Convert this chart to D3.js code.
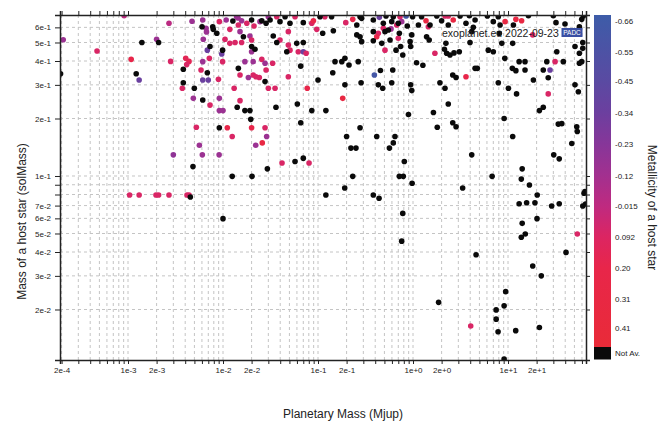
<!DOCTYPE html>
<html lang="en">
<head>
<meta charset="UTF-8">
<title>Planetary mass vs host star mass</title>
<script src="https://cdn.jsdelivr.net/npm/d3@7"></script>
<style>
  body { margin: 0; background: #fff; }
  svg { font-family: "Liberation Sans", Arial, sans-serif; }
  .grid line { stroke: #c4c4c4; stroke-dasharray: 3,3; }
  .axis path, .axis line { stroke: #222; }
  .axis path { stroke-width: 1.5; }
  .axis text { font-size: 8px; fill: #222; font-family: "Liberation Sans", Arial, sans-serif; }
</style>
</head>
<body>
<script>
// planets without host metallicity: [planet mass (Mjup), star mass (solMass)]
const notAvailable = [
  [1.40e-3,0.50],[2.10e-3,0.50],[3.82e-3,0.362],[1.22e-3,0.343],[1.95e-4,0.343],[3.82e-3,0.308],[4.99e-3,0.288],
  [4.83e-3,0.112],[4.53e-3,0.0777],[1.25e-2,0.0996],[2.02e-2,0.0996],[2.93e-2,0.109],[5.73e-2,0.119],[7.0e-2,0.124],
  [1.0e-2,0.0598],[0.222,0.14],[0.251,0.14],[0.564,0.14],[0.232,0.0996],[0.191,0.0865],[0.121,0.0795],[0.382,0.0795],
  [0.439,0.0765],[1.27e-2,0.648],[2.0e-2,0.656],[2.56e-2,0.65],[3.13e-2,0.656],[4.5e-2,0.682],[0.105,0.682],
  [0.139,0.682],[0.277,0.682],[0.62,0.682],[6.02e-3,0.605],[7.8e-3,0.605],[7.9e-3,0.586],[2.84e-2,0.63],
  [3.98e-2,0.643],[5.07e-2,0.63],[7.0e-2,0.635],[0.112,0.559],[0.145,0.576],[0.256,0.617],[0.288,0.669],
  [0.382,0.656],[0.382,0.57],[0.507,0.57],[0.55,0.581],[0.597,0.643],[0.70,0.63],[8.6e-3,0.559],[1.64e-2,0.536],
  [3.38e-2,0.541],[3.68e-2,0.50],[5.97e-2,0.495],[7.0e-2,0.50],[0.256,0.548],[0.277,0.536],[0.288,0.505],
  [0.382,0.511],[0.469,0.495],[7.3e-3,0.476],[9.9e-3,0.456],[2.0e-2,0.476],[2.17e-2,0.461],[4.69e-2,0.447],
  [6.58e-2,0.376],[0.151,0.397],[0.178,0.397],[0.192,0.413],[0.212,0.381],[0.265,0.397],[6.84e-3,0.347],
  [1.45e-2,0.366],[0.143,0.347],[0.454,0.357],[2.77e-2,0.312],[0.100,0.318],[0.192,0.30],[0.284,0.308],
  [0.431,0.30],[0.48,0.288],[0.597,0.308],[6.12e-3,0.25],[1.41e-2,0.229],[1.7e-2,0.22],[1.92e-2,0.22],
  [1.96e-2,0.198],[3.61e-2,0.229],[6.06e-2,0.238],[8.6e-2,0.22],[0.121,0.22],[9.15e-3,0.179],[6.58e-2,0.19],
  [0.20,0.161],[0.277,0.179],[0.415,0.161],[0.646,0.161],[0.52,0.688],[0.99,0.682],[1.23,0.682],[1.78,0.688],
  [3.13,0.688],[3.92,0.69],[6.06,0.688],[7.9,0.682],[16.4,0.69],[30,0.69],[62,0.688],[59.7,0.661],[0.487,0.63],
  [0.87,0.61],[1.14,0.617],[1.51,0.617],[2.0,0.65],[2.35,0.617],[3.61,0.63],[4.31,0.60],[4.5,0.656],[7.0,0.643],
  [8.25,0.617],[11.4,0.617],[32,0.635],[39.8,0.625],[56.4,0.605],[0.718,0.559],[0.573,0.515],[0.663,0.456],
  [0.74,0.476],[0.78,0.43],[0.97,0.548],[0.932,0.505],[0.945,0.476],[1.39,0.536],[1.48,0.515],[2.22,0.495],
  [2.14,0.461],[2.26,0.439],[2.45,0.43],[2.7,0.441],[3.07,0.447],[3.98,0.50],[4.15,0.57],[4.5,0.366],[4.75,0.366],
  [6.2,0.456],[7.0,0.447],[8.1,0.559],[8.6,0.495],[9.25,0.413],[11.1,0.366],[12.1,0.356],[13.1,0.397],[15.1,0.397],
  [15.1,0.359],[11.2,0.495],[25.6,0.397],[38.2,0.397],[23.5,0.359],[26.5,0.327],[18.5,0.318],[32.6,0.447],
  [50.7,0.476],[61.2,0.50],[61.2,0.466],[56.4,0.439],[59.7,0.397],[56.4,0.389],[0.612,0.359],[1.09,0.392],
  [1.27,0.38],[2.62,0.338],[2.84,0.328],[1.92,0.308],[2.17,0.288],[0.945,0.30],[0.97,0.28],[7.9,0.308],
  [10.1,0.288],[12.3,0.269],[50.7,0.30],[55,0.276],[2.35,0.238],[1.64,0.215],[0.895,0.21],[2.62,0.19],
  [2.84,0.181],[1.8,0.18],[9.1,0.20],[11.2,0.161],[21.4,0.22],[23.5,0.229],[33.8,0.187],[36.8,0.188],
  [52.9,0.181],[53.6,0.171],[46.9,0.148],[0.62,0.149],[0.81,0.119],[0.718,0.0996],[0.79,0.0996],[0.978,0.0916],
  [0.78,0.0637],[0.76,0.0456],[4.15,0.129],[6.8,0.0996],[3.33,0.0865],[4.61,0.0387],[14.1,0.109],[13.8,0.0963],
  [16.8,0.0897],[20.3,0.0795],[13.1,0.0716],[15.7,0.0724],[19.2,0.0724],[20.2,0.0598],[14.1,0.0565],
  [15.2,0.0497],[13.8,0.0478],[18.2,0.0338],[22.4,0.030],[30.3,0.129],[34.6,0.123],[28.8,0.0696],[34.6,0.0716],
  [40.8,0.0398],[63.1,0.0812],[64.6,0.0828],[61.2,0.0696],[65.5,0.0714],[9.45,0.0248],[1.86,0.0218],
  [9.1,0.0209],[7.5,0.0199],[7.5,0.0178],[7.86,0.0153],[12.05,0.0155],[21.4,0.0161],[9.1,0.011]
];

// planets with host metallicity: [planet mass (Mjup), star mass (solMass), [Fe/H]]
const withMetallicity = [
  [9.1e-4,0.69,-0.03],[2.08e-4,0.517,-0.15],[4.72e-4,0.451,0.08],[2.0e-3,0.52,-0.15],[2.7e-3,0.63,-0.03],
  [4.72e-3,0.646,-0.15],[1.08e-3,0.408,0.2],[2.81e-3,0.398,0.08],[4.05e-3,0.413,0.15],[4.39e-3,0.398,0.15],
  [4.15e-3,0.383,0.08],[5.87e-3,0.359,0.08],[1.31e-3,0.318,-0.35],[3.73e-3,0.288,0.08],[4.87e-3,0.255,-0.15],
  [5.24e-3,0.18,0.08],[5.64e-3,0.145,-0.15],[3.0e-3,0.129,-0.2],
  [1.04e-3,0.0795,0.08],[1.31e-3,0.0795,0.08],[1.97e-3,0.0795,0.08],[2.10e-3,0.0795,0.08],[2.70e-3,0.0795,0.08],
  [4.18e-3,0.0795,0.08],[4.39e-3,0.0795,0.08],
  [6.06e-3,0.129,-0.15],[9.1e-3,0.129,-0.15],[2.21e-2,0.145,-0.15],[2.59e-2,0.149,0.3],[4.18e-2,0.117,0.08],
  [8.05e-2,0.117,0.08],[1.39e-2,0.682,-0.15],[1.44e-2,0.672,-0.15],[1.57e-2,0.65,-0.15],[3.0e-2,0.682,-0.15],
  [3.68e-2,0.682,0.08],[5.73e-2,0.682,0.08],[0.118,0.682,0.08],[0.442,0.677,-0.35],[6.12e-3,0.656,-0.15],
  [6.63e-3,0.594,-0.15],[6.7e-3,0.568,-0.15],[9.15e-3,0.643,0.08],[1.08e-2,0.656,-0.15],[1.18e-2,0.586,0.08],
  [1.45e-2,0.617,0.08],[1.78e-2,0.63,0.08],[2.12e-2,0.61,0.08],[2.45e-2,0.643,-0.15],[4.87e-2,0.57,0.08],
  [8.6e-2,0.63,0.08],[8.95e-2,0.65,0.2],[9.7e-2,0.586,0.08],[0.196,0.635,0.08],[0.232,0.661,0.2],
  [0.431,0.559,0.08],[0.487,0.594,0.08],[6.2e-3,0.52,-0.15],[1.05e-2,0.52,0.08],[1.18e-2,0.495,0.08],
  [1.34e-2,0.50,0.08],[1.57e-2,0.50,0.08],[1.51e-2,0.57,-0.15],[1.92e-2,0.541,-0.15],[2.0e-2,0.515,0.08],
  [3.98e-2,0.515,0.08],[4.87e-2,0.485,0.08],[0.415,0.536,0.2],[6.84e-3,0.456,-0.35],[9.7e-3,0.435,-0.35],
  [2.0e-2,0.447,-0.15],[5.07e-2,0.456,0.08],[6.2e-2,0.447,0.08],[7.0e-2,0.447,-0.35],[7.5e-2,0.439,0.08],
  [6.12e-3,0.397,-0.15],[7.18e-3,0.413,0.08],[9.9e-3,0.397,0.08],[1.7e-2,0.397,-0.15],[2.08e-2,0.397,-0.15],
  [2.56e-2,0.408,0.08],[2.77e-2,0.389,-0.15],[3.33e-2,0.389,0.08],[1.51e-2,0.338,0.08],[1.85e-2,0.328,-0.15],
  [2.08e-2,0.338,0.08],[2.22e-2,0.331,0.08],[2.41e-2,0.328,0.08],[2.84e-2,0.359,0.08],[4.87e-2,0.331,0.08],
  [6.12e-3,0.318,-0.35],[7.0e-3,0.318,-0.35],[8.95e-3,0.321,0.08],[1.31e-2,0.288,0.08],[3.0e-2,0.288,0.08],
  [3.53e-2,0.288,0.08],[7.7e-2,0.288,0.2],[0.392,0.338,-0.62],[9.15e-3,0.255,-0.15],[7.3e-3,0.235,0.08],
  [9.15e-3,0.22,-0.15],[1.0e-2,0.22,-0.15],[1.51e-2,0.248,0.08],[0.182,0.255,0.3],[1.11e-2,0.179,0.2],
  [1.25e-2,0.161,0.08],[2.0e-2,0.179,0.2],[2.77e-2,0.179,0.08],[2.88e-2,0.161,-0.15],[0.73,0.682,0.08],
  [0.845,0.688,-0.62],[2.17,0.688,0.08],[2.35,0.688,0.08],[0.587,0.589,-0.15],[0.674,0.617,0.08],
  [0.76,0.643,-0.15],[1.37,0.65,0.3],[1.45,0.605,0.08],[2.65,0.656,0.3],[9.32,0.643,0.3],[12.1,0.661,0.3],
  [13.9,0.65,0.3],[0.70,0.526,0.08],[0.507,0.456,0.08],[18.2,0.548,0.08],[31.3,0.397,0.08],[27.7,0.359,-0.35],
  [1.70,0.439,0.08],[3.61,0.331,0.2],[26.5,0.269,0.08],[53.6,0.0497,0.08],[4.05,0.0164,0.08]
];

const xLabelled = [2e-4, 1e-3, 2e-3, 1e-2, 2e-2, 1e-1, 2e-1, 1, 2, 10, 20];
const yLabelled = [0.02, 0.03, 0.04, 0.05, 0.06, 0.07, 0.1, 0.2, 0.3, 0.4, 0.5, 0.6];
const metTicks = [-0.66, -0.55, -0.45, -0.34, -0.23, -0.12, -0.015, 0.092, 0.20, 0.31, 0.41];
const metTickLabels = ["-0.66", "-0.55", "-0.45", "-0.34", "-0.23", "-0.12", "-0.015", "0.092", "0.20", "0.31", "0.41"];
const metStops = [-0.68, -0.45, -0.34, -0.23, -0.12, -0.015, 0.092, 0.20, 0.475];
const metColors = ["#3d5ca8", "#5a4aa2", "#6c3f9f", "#873699", "#a3308f", "#bf2a80", "#dc2562", "#e8264a", "#e92b38"];

const width = 666, height = 421;
const plotLeft = 60, plotRight = 586, plotTop = 15, plotBottom = 360;
const barBottom = 347;

const svg = d3.select("body").append("svg")
  .attr("width", width)
  .attr("height", height);

const x = d3.scaleLog().domain([1.924e-4, 66.2]).range([plotLeft, plotRight]);
const y = d3.scaleLog().domain([0.01088, 0.6965]).range([plotBottom, plotTop]);
const metY = d3.scaleLinear().domain([-0.68, 0.475]).range([plotTop, barBottom]);
const color = d3.scaleLinear().domain(metStops).range(metColors).clamp(true);

// every 1..9 x 10^k inside the domain
function logTicks(scale) {
  const [a, b] = scale.domain();
  const out = [];
  for (let k = Math.floor(Math.log10(a)); k <= Math.ceil(Math.log10(b)); k++) {
    for (let m = 1; m <= 9; m++) {
      const v = m * Math.pow(10, k);
      if (v >= a && v <= b) out.push(v);
    }
  }
  return out;
}
const xTicks = logTicks(x);
const yTicks = logTicks(y);
const isIn = (list, v) => list.some(l => Math.abs(v - l) / l < 1e-6);
const fmt = d3.format(".0e");

// grid
svg.append("g").attr("class", "grid")
  .selectAll("line").data(xTicks).join("line")
  .attr("x1", d => x(d)).attr("x2", d => x(d))
  .attr("y1", plotTop).attr("y2", plotBottom);
svg.append("g").attr("class", "grid")
  .selectAll("line").data(yTicks).join("line")
  .attr("y1", d => y(d)).attr("y2", d => y(d))
  .attr("x1", plotLeft).attr("x2", plotRight);

// points
svg.append("clipPath").attr("id", "plotclip")
  .append("rect").attr("x", plotLeft).attr("y", plotTop)
  .attr("width", plotRight - plotLeft).attr("height", plotBottom - plotTop);

const dots = svg.append("g").attr("clip-path", "url(#plotclip)");
dots.selectAll("circle.met").data(withMetallicity).join("circle")
  .attr("class", "met")
  .attr("cx", d => x(d[0])).attr("cy", d => y(d[1]))
  .attr("r", 2.8)
  .attr("fill", d => color(d[2]));
dots.selectAll("circle.na").data(notAvailable).join("circle")
  .attr("class", "na")
  .attr("cx", d => x(d[0])).attr("cy", d => y(d[1]))
  .attr("r", 2.8)
  .attr("fill", "#0a0a0a");

// axes
svg.append("g").attr("class", "axis")
  .attr("transform", "translate(0," + plotBottom + ")")
  .call(d3.axisBottom(x).tickValues(xTicks)
    .tickFormat(d => isIn(xLabelled, d) ? fmt(d) : "")
    .tickSize(4).tickSizeOuter(4).tickPadding(3));
svg.append("g").attr("class", "axis")
  .attr("transform", "translate(0," + plotTop + ")")
  .call(d3.axisTop(x).tickValues(xTicks).tickFormat("").tickSize(4).tickSizeOuter(4));
svg.append("g").attr("class", "axis")
  .attr("transform", "translate(" + plotLeft + ",0)")
  .call(d3.axisLeft(y).tickValues(yTicks)
    .tickFormat(d => isIn(yLabelled, d) ? fmt(d) : "")
    .tickSize(5).tickSizeOuter(5).tickPadding(4));
svg.append("g").attr("class", "axis")
  .attr("transform", "translate(" + plotRight + ",0)")
  .call(d3.axisRight(y).tickValues(yTicks).tickFormat("").tickSize(4).tickSizeOuter(4));

// colour bar
const grad = svg.append("defs").append("linearGradient")
  .attr("id", "metgrad").attr("x1", 0).attr("y1", 0).attr("x2", 0).attr("y2", 1);
grad.selectAll("stop").data(metStops).join("stop")
  .attr("offset", d => (metY(d) - plotTop) / (barBottom - plotTop))
  .attr("stop-color", d => color(d));
svg.append("rect").attr("x", 594).attr("y", plotTop).attr("width", 17).attr("height", barBottom - plotTop)
  .attr("fill", "url(#metgrad)");
svg.append("rect").attr("x", 594).attr("y", barBottom).attr("width", 17).attr("height", 12.5)
  .attr("fill", "#0a0a0a");
svg.append("g").selectAll("text").data(metTicks).join("text")
  .attr("x", 615).attr("y", d => metY(d)).attr("dy", "0.35em")
  .attr("font-size", 8).attr("fill", "#222")
  .text((d, i) => metTickLabels[i]);
svg.append("text").attr("x", 615).attr("y", 353).attr("dy", "0.35em")
  .attr("font-size", 8).attr("fill", "#222").text("Not Av.");

// titles
svg.append("text")
  .attr("x", 343).attr("y", 417.5)
  .attr("text-anchor", "middle").attr("font-size", 12).attr("fill", "#222")
  .text("Planetary Mass (Mjup)");
svg.append("text")
  .attr("transform", "translate(25.5,221.5) rotate(-90)")
  .attr("text-anchor", "middle").attr("font-size", 12).attr("fill", "#222")
  .text("Mass of a host star (solMass)");
svg.append("text")
  .attr("transform", "translate(648,207.5) rotate(90)")
  .attr("text-anchor", "middle").attr("font-size", 12).attr("fill", "#222")
  .text("Metallicity of a host star");

// watermark
svg.append("text")
  .attr("x", 442).attr("y", 36.7)
  .attr("font-size", 10.5).attr("fill", "#222")
  .text("exoplanet.eu 2022-09-23");
svg.append("rect").attr("x", 561.5).attr("y", 28).attr("width", 21).attr("height", 9)
  .attr("fill", "#3a4fa3");
svg.append("text").attr("x", 572).attr("y", 35.2)
  .attr("text-anchor", "middle").attr("font-size", 6.5).attr("fill", "#fff")
  .text("PADC");
</script>
</body>
</html>
